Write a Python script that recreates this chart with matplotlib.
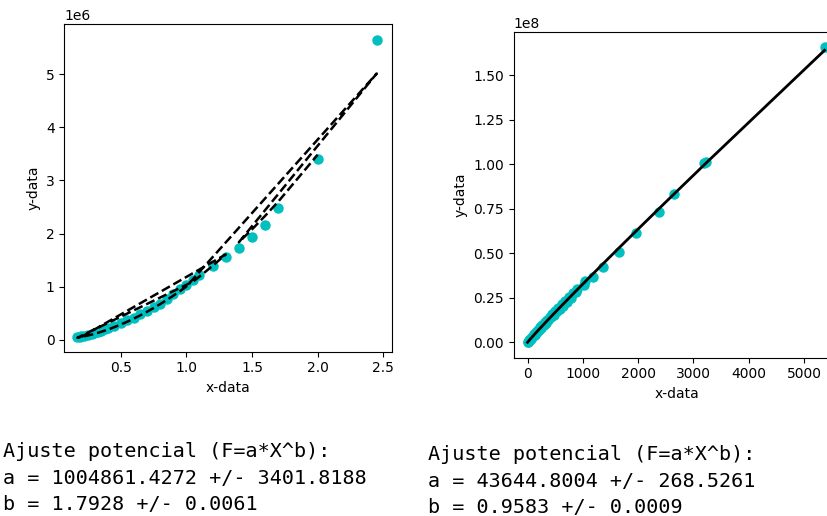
import numpy as np
import matplotlib
matplotlib.use("Agg")
import matplotlib.pyplot as plt

# ---- Left dataset (order as recorded; unsorted, so the fit line zig-zags) ----
x_left = [0.20, 1.30, 1.20, 1.10, 1.05, 0.17, 0.19, 0.22, 0.25, 0.28, 0.30, 0.33,
          0.35, 0.38, 0.40, 0.45, 0.50, 0.55, 0.60, 0.65, 0.70, 0.75, 0.80, 0.85,
          0.90, 0.95, 1.00, 2.45, 1.40, 1.50, 1.60, 1.70, 2.00]
y_left = [0.07e6, 1.56e6, 1.39e6, 1.22e6, 1.12e6, 0.05e6, 0.06e6, 0.08e6, 0.09e6,
          0.11e6, 0.13e6, 0.15e6, 0.17e6, 0.20e6, 0.22e6, 0.27e6, 0.32e6, 0.37e6,
          0.42e6, 0.49e6, 0.55e6, 0.62e6, 0.68e6, 0.77e6, 0.87e6, 0.95e6, 1.03e6,
          5.64e6, 1.72e6, 1.94e6, 2.17e6, 2.49e6, 3.40e6]
a_left, da_left, b_left, db_left = 1004861.4272, 3401.8188, 1.7928, 0.0061

# ---- Right dataset ----
x_right = [0, 10, 20, 30, 45, 60, 75, 90, 110, 130, 150, 170, 190, 210, 230, 250,
           270, 290, 310, 330, 350, 375, 400, 425, 450, 475, 500, 530, 560, 590,
           620, 650, 680, 710, 750, 790, 830, 870, 900, 1013, 1040, 1193, 1363,
           1646, 1966, 2369, 2640, 3183, 3230, 5371]
y_right = [0.000e8, 0.004e8, 0.009e8, 0.011e8, 0.018e8, 0.020e8, 0.030e8, 0.034e8,
           0.045e8, 0.043e8, 0.058e8, 0.060e8, 0.072e8, 0.070e8, 0.085e8, 0.083e8,
           0.098e8, 0.096e8, 0.112e8, 0.110e8, 0.124e8, 0.125e8, 0.141e8, 0.140e8,
           0.157e8, 0.155e8, 0.174e8, 0.174e8, 0.194e8, 0.190e8, 0.214e8, 0.205e8,
           0.231e8, 0.226e8, 0.255e8, 0.250e8, 0.276e8, 0.285e8, 0.300e8, 0.322e8,
           0.345e8, 0.368e8, 0.424e8, 0.508e8, 0.612e8, 0.733e8, 0.830e8, 1.004e8,
           1.010e8, 1.659e8]
a_right, da_right, b_right, db_right = 43644.8004, 268.5261, 0.9583, 0.0009


def power(x, a, b):
    return a * np.power(np.asarray(x, dtype=float), b)


W, H = 827, 516
fig = plt.figure(figsize=(W / 100, H / 100), dpi=100)

def px_axes(left, top, right, bottom):
    return fig.add_axes([left / W, 1 - bottom / H, (right - left) / W, (bottom - top) / H])

ax1 = px_axes(64.3, 24.0, 392.3, 351.7)
ax1.plot(x_left, y_left, 'o', color='c', markersize=6.5)
ax1.plot(x_left, power(x_left, a_left, b_left), 'k--', linewidth=1.8)
ax1.set_xlim(0.0705, 2.5686)
ax1.set_ylim(-0.22e6, 5.94e6)
ax1.set_xlabel('x-data', fontsize=10)
ax1.set_ylabel('y-data', fontsize=10)
ax1.tick_params(labelsize=10)

ax2 = px_axes(513.7, 31.7, 839.7, 357.7)
ax2.plot(x_right, y_right, 'o', color='c', markersize=6.5)
xs = np.sort(np.asarray(x_right, dtype=float))
ax2.plot(xs, power(xs, a_right, b_right), 'k-', linewidth=2.0)
ax2.set_xlim(-250, 5645)
ax2.set_ylim(-0.086e8, 1.743e8)
ax2.set_xlabel('x-data', fontsize=10)
ax2.set_ylabel('y-data', fontsize=10)
ax2.tick_params(labelsize=10)

mono = dict(family='DejaVu Sans Mono', fontsize=14.5, va='baseline', ha='left')
left_lines = ["Ajuste potencial (F=a*X^b):",
              f"a = {a_left:.4f} +/- {da_left:.4f}",
              f"b = {b_left:.4f} +/- {db_left:.4f}"]
right_lines = ["Ajuste potencial (F=a*X^b):",
               f"a = {a_right:.4f} +/- {da_right:.4f}",
               f"b = {b_right:.4f} +/- {db_right:.4f}"]
for i, s in enumerate(left_lines):
    fig.text(3 / W, 1 - (457 + 26.7 * i) / H, s, **mono)
for i, s in enumerate(right_lines):
    fig.text(428 / W, 1 - (460 + 26.7 * i) / H, s, **mono)

fig.savefig('out.png', dpi=100)
